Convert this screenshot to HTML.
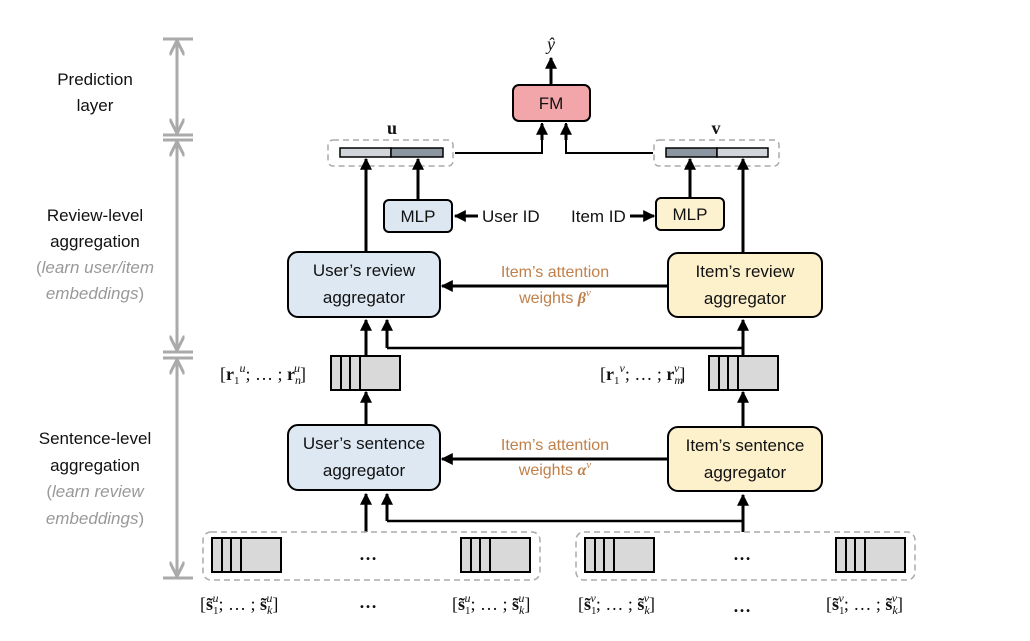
<!DOCTYPE html>
<html><head><meta charset="utf-8"><style>
html,body{margin:0;padding:0;background:#fff;}
svg{display:block;}
.t{font-family:"Liberation Sans",sans-serif;font-size:17px;fill:#111;}
.g{font-family:"Liberation Sans",sans-serif;font-size:17px;fill:#999;font-style:italic;}
.o{font-family:"Liberation Sans",sans-serif;font-size:16px;fill:#c0804a;}
.m{font-family:"Liberation Serif",serif;font-size:18px;fill:#111;}
</style></head><body>
<svg width="1030" height="641" viewBox="0 0 1030 641" xmlns="http://www.w3.org/2000/svg">
<defs>
<marker id="a" viewBox="0 0 10 10" refX="9" refY="5" markerWidth="4" markerHeight="4" orient="auto-start-reverse" markerUnits="strokeWidth"><path d="M0,0L10,5L0,10z" fill="#000"/></marker>
<marker id="ga" viewBox="0 0 10 10" refX="9" refY="5" markerWidth="5" markerHeight="5" orient="auto-start-reverse" markerUnits="strokeWidth"><path d="M0,0L10,5L0,10" fill="none" stroke="#aaa" stroke-width="2"/></marker>
<g id="stk"><rect x="0" y="0" width="69" height="34" fill="#d9d9d9" stroke="#000" stroke-width="2"/><path d="M10,0V34M19,0V34M29,0V34" stroke="#000" stroke-width="2"/></g>
</defs>

<!-- left axis -->
<g stroke="#aaa" stroke-width="3" fill="none">
<path d="M163,39H193M163,135H193M163,140H193M163,352H193M163,358H193M163,578H193"/>
<line x1="177" y1="42" x2="177" y2="132" marker-start="url(#ga)" marker-end="url(#ga)"/>
<line x1="177" y1="143" x2="177" y2="349" marker-start="url(#ga)" marker-end="url(#ga)"/>
<line x1="177" y1="361" x2="177" y2="575" marker-start="url(#ga)" marker-end="url(#ga)"/>
</g>
<g text-anchor="middle">
<text class="t" x="95" y="85">Prediction</text>
<text class="t" x="95" y="111">layer</text>
<text class="t" x="95" y="221">Review-level</text>
<text class="t" x="95" y="247">aggregation</text>
<text class="g" x="95" y="273"><tspan font-style="normal">(</tspan>learn user/item</text>
<text class="g" x="95" y="299">embeddings<tspan font-style="normal">)</tspan></text>
<text class="t" x="95" y="444">Sentence-level</text>
<text class="t" x="95" y="471">aggregation</text>
<text class="g" x="95" y="497"><tspan font-style="normal">(</tspan>learn review</text>
<text class="g" x="95" y="524">embeddings<tspan font-style="normal">)</tspan></text>
</g>

<!-- top -->
<text class="m" x="551" y="50" text-anchor="middle" font-style="italic">ŷ</text>
<line x1="551" y1="85" x2="551" y2="58" stroke="#000" stroke-width="3" marker-end="url(#a)"/>
<rect x="513" y="85" width="77" height="36" rx="6" fill="#f2a6aa" stroke="#000" stroke-width="2"/>
<text class="t" x="551" y="109" text-anchor="middle">FM</text>

<text class="m" x="392" y="134" text-anchor="middle" font-weight="bold">u</text>
<text class="m" x="716" y="134" text-anchor="middle" font-weight="bold">v</text>
<rect x="328" y="140" width="125" height="26" rx="5" fill="none" stroke="#aaa" stroke-width="1.5" stroke-dasharray="6,4"/>
<rect x="654" y="140" width="125" height="26" rx="5" fill="none" stroke="#aaa" stroke-width="1.5" stroke-dasharray="6,4"/>
<rect x="340" y="148" width="51" height="9" fill="#d2d5da" stroke="#000" stroke-width="1.5"/>
<rect x="391" y="148" width="52" height="9" fill="#8c96a0" stroke="#000" stroke-width="1.5"/>
<rect x="666" y="148" width="51" height="9" fill="#8c96a0" stroke="#000" stroke-width="1.5"/>
<rect x="717" y="148" width="51" height="9" fill="#d2d5da" stroke="#000" stroke-width="1.5"/>

<g stroke="#000" stroke-width="2.5" fill="none">
<polyline points="455,153 542,153 542,123" stroke-width="2"/>
<polyline points="653,153 566,153 566,123" stroke-width="2"/>
</g>
<g stroke="#000" stroke-width="3">
<line x1="542" y1="140" x2="542" y2="124" marker-end="url(#a)"/>
<line x1="566" y1="140" x2="566" y2="124" marker-end="url(#a)"/>
<line x1="418" y1="200" x2="418" y2="159" marker-end="url(#a)"/>
<line x1="690" y1="198" x2="690" y2="159" marker-end="url(#a)"/>
<line x1="366" y1="252" x2="366" y2="159" marker-end="url(#a)"/>
<line x1="743" y1="253" x2="743" y2="159" marker-end="url(#a)"/>
<line x1="478" y1="216" x2="455" y2="216" marker-end="url(#a)"/>
<line x1="630" y1="216" x2="654" y2="216" marker-end="url(#a)"/>
<line x1="668" y1="286" x2="442" y2="286" marker-end="url(#a)"/>
<line x1="668" y1="459" x2="442" y2="459" marker-end="url(#a)"/>
<line x1="366" y1="356" x2="366" y2="320" marker-end="url(#a)"/>
<line x1="387" y1="348" x2="387" y2="320" marker-end="url(#a)"/>
<line x1="743" y1="356" x2="743" y2="320" marker-end="url(#a)"/>
<line x1="366" y1="425" x2="366" y2="392" marker-end="url(#a)"/>
<line x1="743" y1="427" x2="743" y2="392" marker-end="url(#a)"/>
<line x1="366" y1="532" x2="366" y2="494" marker-end="url(#a)"/>
<line x1="387" y1="521" x2="387" y2="494" marker-end="url(#a)"/>
<line x1="743" y1="532" x2="743" y2="495" marker-end="url(#a)"/>
</g>
<polyline points="387,348 743,348" stroke="#000" stroke-width="2.5" fill="none"/>
<polyline points="387,521 743,521" stroke="#000" stroke-width="2.5" fill="none"/>

<rect x="384" y="200" width="68" height="32" rx="5" fill="#dde7f1" stroke="#000" stroke-width="2"/>
<text class="t" x="418" y="222" text-anchor="middle">MLP</text>
<rect x="656" y="198" width="68" height="32" rx="5" fill="#fdf2d0" stroke="#000" stroke-width="2"/>
<text class="t" x="690" y="220" text-anchor="middle">MLP</text>
<text class="t" x="482" y="222" font-size="16">User ID</text>
<text class="t" x="571" y="222" font-size="16">Item ID</text>

<rect x="288" y="252" width="152" height="65" rx="10" fill="#dde8f3" stroke="#000" stroke-width="2"/>
<text class="t" x="364" y="276" text-anchor="middle">User’s review</text>
<text class="t" x="364" y="303" text-anchor="middle">aggregator</text>
<rect x="668" y="253" width="154" height="64" rx="10" fill="#fdf1cc" stroke="#000" stroke-width="2"/>
<text class="t" x="745" y="277" text-anchor="middle">Item’s review</text>
<text class="t" x="745" y="304" text-anchor="middle">aggregator</text>
<text class="o" x="555" y="277" text-anchor="middle">Item’s attention</text>
<text class="o" x="555" y="303" text-anchor="middle">weights <tspan font-family="Liberation Serif" font-weight="bold" font-style="italic">β</tspan><tspan font-family="Liberation Serif" font-style="italic" font-size="11" dy="-7">v</tspan></text>

<use href="#stk" x="331" y="356"/>
<use href="#stk" x="709" y="356"/>
<text class="m" x="220" y="380">[<tspan font-weight="bold">r</tspan><tspan font-size="11" dy="4">1</tspan><tspan font-size="12" font-style="italic" dy="-12">u</tspan><tspan dy="8">; … ; </tspan><tspan font-weight="bold">r</tspan><tspan font-size="12" font-style="italic" dy="4">n</tspan><tspan font-size="12" font-style="italic" dx="-7" dy="-12">u</tspan><tspan dy="8">]</tspan></text>
<text class="m" x="600" y="380">[<tspan font-weight="bold">r</tspan><tspan font-size="11" dy="4">1</tspan><tspan font-size="12" font-style="italic" dy="-12">v</tspan><tspan dy="8">; … ; </tspan><tspan font-weight="bold">r</tspan><tspan font-size="12" font-style="italic" dy="4">m</tspan><tspan font-size="12" font-style="italic" dx="-9" dy="-12">v</tspan><tspan dy="8">]</tspan></text>

<rect x="288" y="425" width="152" height="65" rx="10" fill="#dde8f3" stroke="#000" stroke-width="2"/>
<text class="t" x="364" y="449" text-anchor="middle">User’s sentence</text>
<text class="t" x="364" y="476" text-anchor="middle">aggregator</text>
<rect x="668" y="427" width="154" height="64" rx="10" fill="#fdf1cc" stroke="#000" stroke-width="2"/>
<text class="t" x="745" y="451" text-anchor="middle">Item’s sentence</text>
<text class="t" x="745" y="478" text-anchor="middle">aggregator</text>
<text class="o" x="555" y="450" text-anchor="middle">Item’s attention</text>
<text class="o" x="555" y="475" text-anchor="middle">weights <tspan font-family="Liberation Serif" font-weight="bold" font-style="italic">α</tspan><tspan font-family="Liberation Serif" font-style="italic" font-size="11" dy="-7">v</tspan></text>

<rect x="203" y="532" width="337" height="48" rx="8" fill="none" stroke="#aaa" stroke-width="1.5" stroke-dasharray="6,4"/>
<rect x="576" y="532" width="339" height="48" rx="8" fill="none" stroke="#aaa" stroke-width="1.5" stroke-dasharray="6,4"/>
<use href="#stk" x="212" y="538"/>
<use href="#stk" x="461" y="538"/>
<use href="#stk" x="585" y="538"/>
<use href="#stk" x="836" y="538"/>
<text class="m" x="368" y="560" text-anchor="middle" font-weight="bold">…</text>
<text class="m" x="742" y="560" text-anchor="middle" font-weight="bold">…</text>
<text class="m" x="368" y="608" text-anchor="middle" font-weight="bold">…</text>
<text class="m" x="742" y="612" text-anchor="middle" font-weight="bold">…</text>
<g class="m">
<text x="200" y="610">[<tspan font-weight="bold">s̃</tspan><tspan font-size="11" dy="4">1</tspan><tspan font-size="12" font-style="italic" dx="-6" dy="-12">u</tspan><tspan dy="8">; … ; </tspan><tspan font-weight="bold">s̃</tspan><tspan font-size="12" font-style="italic" dy="4">k</tspan><tspan font-size="12" font-style="italic" dx="-6" dy="-12">u</tspan><tspan dy="8">]</tspan></text>
<text x="452" y="610">[<tspan font-weight="bold">s̃</tspan><tspan font-size="11" dy="4">1</tspan><tspan font-size="12" font-style="italic" dx="-6" dy="-12">u</tspan><tspan dy="8">; … ; </tspan><tspan font-weight="bold">s̃</tspan><tspan font-size="12" font-style="italic" dy="4">k</tspan><tspan font-size="12" font-style="italic" dx="-6" dy="-12">u</tspan><tspan dy="8">]</tspan></text>
<text x="578" y="610">[<tspan font-weight="bold">s̃</tspan><tspan font-size="11" dy="4">1</tspan><tspan font-size="12" font-style="italic" dx="-6" dy="-12">v</tspan><tspan dy="8">; … ; </tspan><tspan font-weight="bold">s̃</tspan><tspan font-size="12" font-style="italic" dy="4">k</tspan><tspan font-size="12" font-style="italic" dx="-6" dy="-12">v</tspan><tspan dy="8">]</tspan></text>
<text x="826" y="610">[<tspan font-weight="bold">s̃</tspan><tspan font-size="11" dy="4">1</tspan><tspan font-size="12" font-style="italic" dx="-6" dy="-12">v</tspan><tspan dy="8">; … ; </tspan><tspan font-weight="bold">s̃</tspan><tspan font-size="12" font-style="italic" dy="4">k</tspan><tspan font-size="12" font-style="italic" dx="-6" dy="-12">v</tspan><tspan dy="8">]</tspan></text>
</g>
</svg>
</body></html>
